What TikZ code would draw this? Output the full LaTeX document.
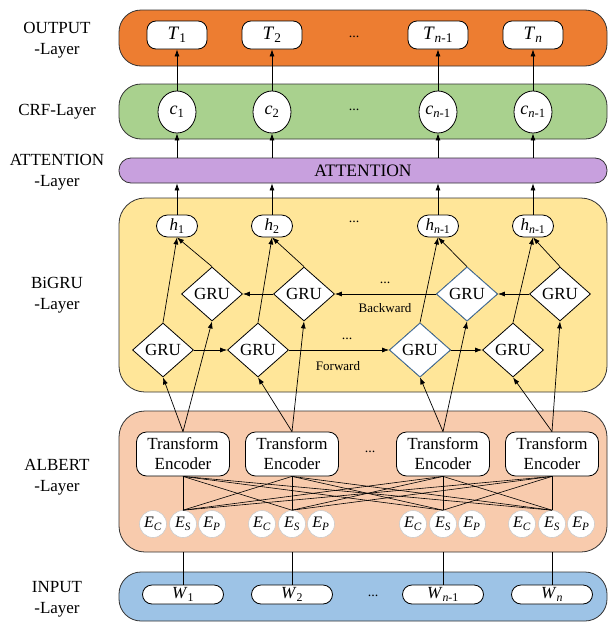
\documentclass[tikz,border=0pt]{standalone}
\usepackage{fontspec}
\setmainfont{Liberation Serif}
\usetikzlibrary{shapes.geometric,arrows.meta,calc}
\definecolor{outorange}{RGB}{237,125,49}
\definecolor{crfgreen}{RGB}{169,209,142}
\definecolor{attpurple}{RGB}{200,160,222}
\definecolor{grufill}{RGB}{255,230,153}
\definecolor{albfill}{RGB}{248,203,173}
\definecolor{inblue}{RGB}{157,195,230}
\definecolor{gruedge}{RGB}{70,115,160}
\newcommand{\tsub}[2]{\textit{#1}\textsubscript{#2}}
\tikzset{
  band/.style={rectangle,rounded corners=22pt,draw=black!80,line width=0.8pt,
    minimum width=488pt,inner sep=0pt},
  tokbox/.style={rectangle,rounded corners=9pt,draw=black,fill=white,line width=0.8pt,
    minimum width=60pt,minimum height=28pt,inner sep=0pt,font=\fontsize{19}{22}\selectfont},
  crfnode/.style={ellipse,draw=black,fill=white,line width=0.8pt,
    minimum width=38pt,minimum height=42pt,inner sep=0pt,font=\fontsize{18}{20}\selectfont},
  hnode/.style={rectangle,rounded corners=11pt,draw=black,fill=white,line width=0.8pt,
    minimum width=41pt,minimum height=22pt,inner sep=0pt,font=\fontsize{17}{19}\selectfont},
  grunode/.style={diamond,draw=black,fill=white,line width=0.8pt,
    minimum width=61pt,minimum height=54pt,inner sep=0pt,font=\fontsize{17}{19}\selectfont},
  encbox/.style={rectangle,rounded corners=10pt,draw=black,fill=white,line width=0.8pt,
    minimum width=93pt,minimum height=44pt,align=center,inner sep=0pt,
    font=\fontsize{17}{20}\selectfont},
  embnode/.style={circle,draw=gray!40,fill=white,line width=0.6pt,
    minimum size=27pt,inner sep=0pt,font=\fontsize{16}{18}\selectfont},
  wbox/.style={rectangle,rounded corners=9.5pt,draw=black,fill=white,line width=0.8pt,
    minimum width=81pt,minimum height=19pt,inner sep=0pt,font=\fontsize{17}{19}\selectfont},
  laytext/.style={align=center,font=\fontsize{17}{21}\selectfont},
  dots/.style={font=\fontsize{14}{16}\selectfont},
  dirtext/.style={font=\fontsize{13}{15}\selectfont},
  arrow/.style={-{Latex[length=7pt,width=5pt]},line width=0.7pt},
  link/.style={line width=0.6pt},
}

\begin{document}
\begin{tikzpicture}[x=1pt,y=-1pt]
  \useasboundingbox (0,0) rectangle (608,624);
  % layer bands
  \node[band, fill=outorange, minimum height=56pt] (outb) at (363,38) {};
  \node[band, fill=crfgreen, minimum height=55pt] (crfb) at (363,111.5) {};
  \node[band, fill=attpurple, minimum height=25pt, rounded corners=12pt,
    font=\fontsize{17.5}{20}\selectfont] (att) at (363,170.5) {ATTENTION};
  \node[band, fill=grufill, minimum height=194pt, rounded corners=26pt] (grub) at (363,295) {};
  \node[band, fill=albfill, minimum height=141pt, rounded corners=26pt] (alb) at (363,481.5) {};
  \node[band, fill=inblue, minimum height=49pt] (inb) at (363,596.5) {};

  % layer names
  \node[laytext] (lout) at (57,40) {OUTPUT\\-Layer};
  \node[laytext] (lcrf) at (57,112) {CRF-Layer};
  \node[laytext] (latt) at (57,172.5) {ATTENTION\\-Layer};
  \node[laytext] (lgru) at (57,295) {BiGRU\\-Layer};
  \node[laytext] (lalb) at (57,477) {ALBERT\\-Layer};
  \node[laytext] (lin) at (57,599) {INPUT\\-Layer};

  % output, crf and hidden nodes
  \foreach \n/\x/\tl/\cl in {1/177/1/1, 2/272/2/2, 3/438/{\textit{n}-1}/{\textit{n}-1},
      4/533/\textit{n}/{\textit{n}-1}} {
    \node[tokbox] (t\n) at (\x,35) {\tsub{T}{\tl}};
    \node[crfnode] (c\n) at (\x,112) {\tsub{c}{\cl}};
    \node[hnode] (h\n) at (\x,226) {\tsub{h}{\cl}};
  }
  \node[dots] (tdots) at (354,37) {...};
  \node[dots] (cdots) at (354,110) {...};
  \node[dots] (hdots) at (354,222) {...};

  % GRU cells
  \foreach \n/\fx/\bx in {1/163/212, 2/258/304, 3/420/467, 4/513/560} {
    \node[grunode] (f\n) at (\fx,350) {GRU};
    \node[grunode] (b\n) at (\bx,294) {GRU};
  }
  \node[grunode, draw=gruedge] at (f3) {GRU};
  \node[grunode, draw=gruedge] at (b3) {GRU};
  \node[dots] (fdots) at (347,339) {...};
  \node[dirtext] (fwd) at (338,366) {Forward};
  \node[dots] (bdots) at (385,283) {...};
  \node[dirtext] (bwd) at (385,308) {Backward};

  % ALBERT encoders, embeddings and inputs
  \foreach \n/\x/\wl in {1/183/1, 2/292/2, 3/443/{\textit{n}-1}, 4/552/\textit{n}} {
    \node[encbox] (enc\n) at (\x,454) {Transform\\Encoder};
    \node[embnode] (ec\n) at (\x-30,524) {\tsub{E}{\textit{C}}};
    \node[embnode] (es\n) at (\x,524) {\tsub{E}{\textit{S}}};
    \node[embnode] (ep\n) at (\x+29,524) {\tsub{E}{\textit{P}}};
    \node[wbox] (w\n) at (\x,594.5) {\tsub{W}{\wl}};
  }
  \node[dots] (edots) at (370,452) {...};
  \node[dots] (wdots) at (373,596) {...};

  % connections
  \foreach \n in {1,...,4} {
    \draw[arrow] (c\n.north) -- (t\n.south);
    \draw[arrow] (att.north -| c\n) -- (c\n.south);
    \draw[arrow] (h\n.north) -- (att.south -| h\n);
    \draw[arrow] (f\n.north) -- (h\n.south);
    \draw[arrow] (b\n.north) -- (h\n.south);
    \draw[arrow] (enc\n.north) -- (f\n.south);
    \draw[arrow] (enc\n.north) -- (b\n.south);
    \draw[link] (alb.south -| w\n) -- (w\n.north);
    \foreach \m in {1,...,4}
      \draw[link] (enc\n.south) -- (es\m.north);
  }
  \draw[arrow] (f1.east) -- (f2.west);
  \draw[arrow] (f2.east) -- (f3.west);
  \draw[arrow] (f3.east) -- (f4.west);
  \draw[arrow] (b4.west) -- (b3.east);
  \draw[arrow] (b3.west) -- (b2.east);
  \draw[arrow] (b2.west) -- (b1.east);
\end{tikzpicture}
\end{document}
